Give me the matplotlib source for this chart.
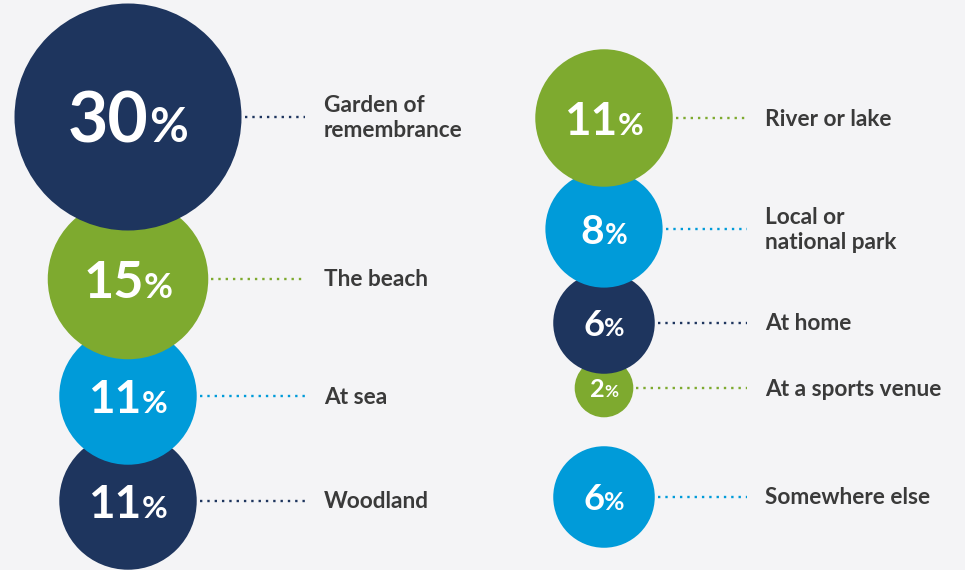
import numpy as np
import matplotlib.pyplot as plt
from matplotlib.patches import Circle

# data
left_labels = ["Garden of\nremembrance", "The beach", "At sea", "Woodland"]
left_values = [30, 15, 11, 11]
right_labels = ["River or lake", "Local or\nnational park", "At home",
                "At a sports venue", "Somewhere else"]
right_values = [11, 8, 6, 2, 6]

NAVY = "#1e355e"
GREEN = "#7eaa2f"
BLUE = "#009bd9"
left_colors = [NAVY, GREEN, BLUE, NAVY]
right_colors = [GREEN, BLUE, NAVY, GREEN, BLUE]

# layout (pixel space)
left_cy = [117, 279, 396, 501]
right_cy = [118, 229, 323, 388, 497]
left_cx, right_cx = 128, 604
left_line_end, right_line_end = 305, 747
left_text_x, right_text_x = 324, 765
BG = "#f4f4f6"
TEXT = "#3a3a3a"
FONT = "Lato"

fig = plt.figure(figsize=(9.65, 5.7), dpi=100, facecolor=BG)
ax = fig.add_axes([0, 0, 1, 1])
ax.set_facecolor(BG)
ax.set_xlim(0, 965)
ax.set_ylim(570, 0)
ax.set_aspect("equal")
ax.axis("off")


def radius(v):
    # area proportional to value
    return 113.5 * np.sqrt(v / 30.0)


renderer = fig.canvas.get_renderer()


def draw_column(cx, cys, values, colors, labels, line_end, text_x):
    n = len(values)
    for i, (cy, v, c, lab) in enumerate(zip(cys, values, colors, labels)):
        r = radius(v)
        z = 10 + (n - i) * 3
        ax.add_patch(Circle((cx, cy), r, facecolor=c, edgecolor="none", zorder=z))
        ax.plot([cx + r + 3, line_end], [cy, cy], color=c, lw=1.7,
                linestyle=(0, (1, 2.1)), zorder=2)
        ax.text(text_x, cy + 1, lab, color=TEXT, fontsize=16.3, fontweight="bold",
                family=FONT, va="center", ha="left", linespacing=1.22)

        fs = 7 + 0.38 * r
        fs_px = fs * 100 / 72
        base = cy + 0.36 * fs_px
        t1 = ax.text(cx, base, str(v), color="white", fontsize=fs,
                     fontweight="bold", family=FONT, va="baseline", ha="left",
                     zorder=z + 1)
        t2 = ax.text(cx, base, "%", color="white", fontsize=fs * 0.68,
                     fontweight="bold", family=FONT, va="baseline", ha="left",
                     zorder=z + 1)
        w1 = t1.get_window_extent(renderer).width
        w2 = t2.get_window_extent(renderer).width
        x0 = cx - (w1 + w2) / 2
        t1.set_x(x0)
        t2.set_x(x0 + w1)


draw_column(left_cx, left_cy, left_values, left_colors, left_labels,
            left_line_end, left_text_x)
draw_column(right_cx, right_cy, right_values, right_colors, right_labels,
            right_line_end, right_text_x)

fig.savefig("out.png", dpi=100, facecolor=BG)
